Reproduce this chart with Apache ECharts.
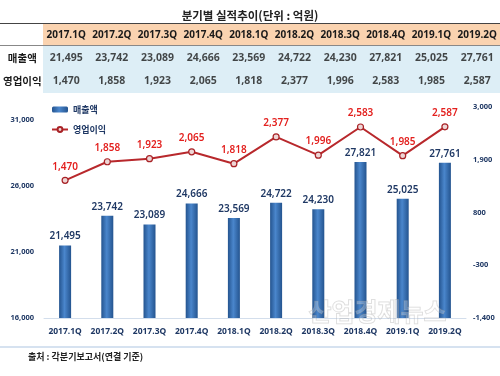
<!DOCTYPE html>
<html>
<head>
<meta charset="utf-8">
<script src="https://cdn.jsdelivr.net/npm/echarts@6/dist/echarts.min.js"></script>
<style>
	html,body{margin:0;padding:0;background:#fff;}
	#chart_box{width:500px;height:376px;}
</style>
</head>
<body>
<div id="chart_box"></div>
<script>
	// 분기
	var quarter_list = ['2017.1Q','2017.2Q','2017.3Q','2017.4Q','2018.1Q','2018.2Q','2018.3Q','2018.4Q','2019.1Q','2019.2Q'];
	// 매출액 (억원)
	var sales_list = [21495,23742,23089,24666,23569,24722,24230,27821,25025,27761];
	// 영업이익 (억원)
	var profit_list = [1470,1858,1923,2065,1818,2377,1996,2583,1985,2587];
	// 표 행 이름
	var row_list = ['매출액','영업이익'];

	var num_font = '"Noto Sans","Noto Sans CJK KR",sans-serif';
	var kr_font = '"Noto Sans CJK KR",sans-serif';
	var navy = '#1F3864';

	function fmt(v){
		return Number(v).toLocaleString('en-US');
	}

	// 표 데이터 [열, 행, 값]
	var table_data = [];
	quarter_list.map((q,i) => {
		table_data.push([i,0,sales_list[i]]);
		table_data.push([i,1,profit_list[i]]);
	});

	var myChart = echarts.init(document.getElementById('chart_box'));
	myChart.setOption({
		animation:false,
		title:{
			text:'분기별 실적추이(단위 : 억원)',
			left:'center',
			top:5,
			textStyle:{fontFamily:kr_font,fontSize:11.5,fontWeight:'bold',color:'#222'}
		},
		legend:{
			data:['매출액','영업이익'],
			orient:'vertical',
			left:46,
			top:100,
			itemGap:11,
			itemWidth:16,
			itemHeight:6,
			textStyle:{fontFamily:kr_font,fontSize:9,color:navy,fontWeight:'bold'}
		},
		graphic:[
			{type:'rect',shape:{x:43,y:24,width:457,height:21},style:{fill:'#FAD3B0'},z:-10},
			{type:'rect',shape:{x:43,y:46,width:457,height:47},style:{fill:'#DDEEF6'},z:-10},
			{type:'line',shape:{x1:0,y1:23.5,x2:500,y2:23.5},style:{stroke:'#444',lineWidth:1.2},z:-5},
			{type:'line',shape:{x1:0,y1:45.5,x2:500,y2:45.5},style:{stroke:'#888',lineWidth:1},z:-5},
			{type:'line',shape:{x1:0,y1:347,x2:500,y2:347},style:{stroke:'#D6E2F0',lineWidth:2},z:-5},
			{type:'text',left:28,top:352,style:{text:'출처 : 각분기보고서(연결 기준)',font:'bold 9px "Noto Sans CJK KR"',fill:'#222'}},
			{type:'text',left:308,top:298,z:100,style:{text:'산업경제뉴스',font:'bold 25px "Noto Sans CJK KR"',fill:'rgba(255,255,255,0.25)',stroke:'rgba(150,150,150,0.35)',lineWidth:1}}
		],
		grid:[
			{left:44,right:34,top:120,bottom:58},
			{left:44,right:34,top:107,bottom:58},
			{left:43,right:0,top:47,height:46}
		],
		xAxis:[{
			type:'category',
			gridIndex:0,
			data:quarter_list,
			axisLine:{lineStyle:{color:'#D3DEEC',width:1}},
			axisTick:{show:false},
			axisLabel:{interval:0,fontFamily:num_font,fontSize:8.5,fontWeight:'bold',color:navy,margin:9}
		},{
			type:'category',
			gridIndex:1,
			data:quarter_list,
			show:false
		},{
			type:'category',
			gridIndex:2,
			data:quarter_list,
			position:'top',
			axisLine:{show:false},
			axisTick:{show:false},
			axisLabel:{interval:0,fontFamily:num_font,fontSize:10,fontWeight:'bold',color:'#1a1a1a',margin:12,verticalAlign:'middle'}
		}],
		yAxis:[{
			type:'value',
			gridIndex:0,
			min:16000,
			max:31000,
			interval:5000,
			splitLine:{show:false},
			axisLine:{show:false},
			axisTick:{show:false},
			axisLabel:{fontFamily:num_font,fontSize:7.5,fontWeight:'bold',color:navy,margin:10,formatter:(v) => fmt(v)}
		},{
			type:'value',
			gridIndex:1,
			position:'right',
			min:-1400,
			max:3000,
			interval:1100,
			splitLine:{show:false},
			axisLine:{show:false},
			axisTick:{show:false},
			axisLabel:{fontFamily:num_font,fontSize:7.5,fontWeight:'bold',color:navy,margin:7,formatter:(v) => fmt(v)}
		},{
			type:'category',
			gridIndex:2,
			data:row_list,
			inverse:true,
			axisLine:{show:false},
			axisTick:{show:false},
			axisLabel:{fontFamily:kr_font,fontSize:10.5,fontWeight:'bold',color:'#1a1a1a',margin:21,align:'center'}
		}],
		series:[{
			name:'매출액',
			type:'bar',
			xAxisIndex:0,
			yAxisIndex:0,
			barWidth:12,
			data:sales_list,
			itemStyle:{
				color:new echarts.graphic.LinearGradient(0,0,1,0,[
					{offset:0,color:'#24548F'},
					{offset:0.45,color:'#4A86CC'},
					{offset:1,color:'#24548F'}
				])
			},
			label:{
				show:true,
				position:'top',
				distance:4,
				fontFamily:num_font,
				fontSize:10,
				fontWeight:600,
				color:navy,
				formatter:(p) => fmt(p.value)
			}
		},{
			name:'영업이익',
			type:'line',
			xAxisIndex:1,
			yAxisIndex:1,
			data:profit_list,
			symbol:'circle',
			symbolSize:6,
			lineStyle:{color:'#B8282C',width:2},
			itemStyle:{color:'#EED6D6',borderColor:'#A82226',borderWidth:1.2},
			label:{
				show:true,
				position:'top',
				distance:5,
				fontFamily:num_font,
				fontSize:10,
				fontWeight:600,
				color:'#E3201E',
				formatter:(p) => fmt(p.value)
			},
			z:5
		},{
			name:'table',
			type:'scatter',
			xAxisIndex:2,
			yAxisIndex:2,
			data:table_data,
			symbolSize:1,
			silent:true,
			itemStyle:{color:'rgba(0,0,0,0)'},
			label:{
				show:true,
				position:'inside',
				fontFamily:num_font,
				fontSize:10.5,
				fontWeight:'bold',
				color:'#1a1a1a',
				formatter:(p) => fmt(p.value[2])
			}
		}]
	});
</script>
</body>
</html>
